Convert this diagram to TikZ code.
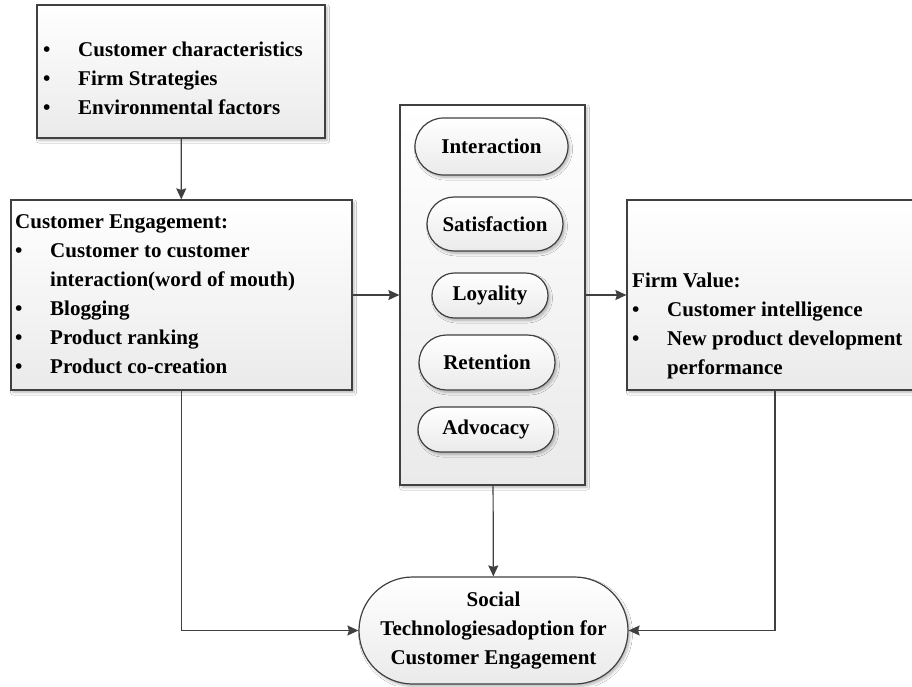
\documentclass[tikz,border=0pt]{standalone}
\usepackage{fontspec}
\setmainfont{Liberation Serif}
\usetikzlibrary{arrows.meta,shapes.misc,shadows.blur}

\definecolor{linegray}{RGB}{64,64,64}
\definecolor{fillbottom}{RGB}{234,234,234}

\begin{document}
\begin{tikzpicture}[x=1pt,y=-1pt,
  every node/.style={font=\fontsize{21}{29}\selectfont\bfseries, text=black},
  softshadow/.style={blur shadow={shadow xshift=2pt, shadow yshift=-2.5pt,
      shadow blur radius=2.5pt, shadow blur steps=6, shadow opacity=28}},
  boxstyle/.style={draw=linegray, line width=1.2pt, top color=white,
      bottom color=fillbottom, softshadow, inner sep=0pt},
  pill/.style={rounded rectangle, draw=linegray, line width=1.2pt,
      top color=white, bottom color=fillbottom, softshadow, inner sep=0pt},
  listtext/.style={anchor=base west, inner sep=0pt, align=left},
  conn/.style={draw=linegray, line width=1.2pt,
      -{Stealth[length=11pt,width=10pt,inset=1.5pt]}}
]
\useasboundingbox (0,0) rectangle (912,686);
\fill[white] (0,0) rectangle (912,686);

% --- boxes -------------------------------------------------------------
\node[boxstyle, minimum width=288pt, minimum height=133pt] (factors) at (181,71.5) {};
\node[boxstyle, minimum width=341pt, minimum height=190pt] (engage) at (181.5,295) {};
\node[boxstyle, minimum width=185pt, minimum height=380pt] (outcomes) at (492.5,295) {};
\node[boxstyle, minimum width=296pt, minimum height=190pt] (firm) at (775,295) {};

% --- outcome pills -----------------------------------------------------
\node[pill, minimum width=153pt, minimum height=57pt] (interaction) at (491.5,146.5) {Interaction};
\node[pill, minimum width=136pt, minimum height=54pt] (satisfaction) at (495,224) {Satisfaction};
\node[pill, minimum width=116pt, minimum height=45pt] (loyality) at (490,295.5) {Loyality};
\node[pill, minimum width=136pt, minimum height=55pt] (retention) at (487,362.5) {Retention};
\node[pill, minimum width=136pt, minimum height=45pt] (advocacy) at (486,429.5) {Advocacy};

% --- result ------------------------------------------------------------
\node[pill, minimum width=269pt, minimum height=107pt, align=center] (adoption) at (493.5,630.5)
  {Social\\Technologiesadoption for\\Customer Engagement};

% --- box texts ---------------------------------------------------------
\node[listtext] (factorsText) at (43,56) {%
  \begin{tabular}[t]{@{}p{35pt}@{}l@{}}
  \textbullet & Customer characteristics\\
  \textbullet & Firm Strategies\\
  \textbullet & Environmental factors
  \end{tabular}};

\node[listtext] (engageText) at (15,228) {%
  \begin{tabular}[t]{@{}p{35pt}@{}l@{}}
  \multicolumn{2}{@{}l@{}}{Customer Engagement:}\\
  \textbullet & Customer to customer\\
              & interaction(word of mouth)\\
  \textbullet & Blogging\\
  \textbullet & Product ranking\\
  \textbullet & Product co-creation
  \end{tabular}};

\node[listtext] (firmText) at (632,287) {%
  \begin{tabular}[t]{@{}p{35pt}@{}l@{}}
  \multicolumn{2}{@{}l@{}}{Firm Value:}\\
  \textbullet & Customer intelligence\\
  \textbullet & New product development\\
              & performance
  \end{tabular}};

% --- connectors --------------------------------------------------------
\draw[conn] (factors) -- (engage);
\draw[conn] (engage) -- (outcomes);
\draw[conn] (outcomes) -- (firm);
\draw[conn] (outcomes) -- (adoption);
\draw[conn] (engage.south) |- (adoption.west);
\draw[conn] (firm.south) |- (adoption.east);
\end{tikzpicture}
\end{document}
